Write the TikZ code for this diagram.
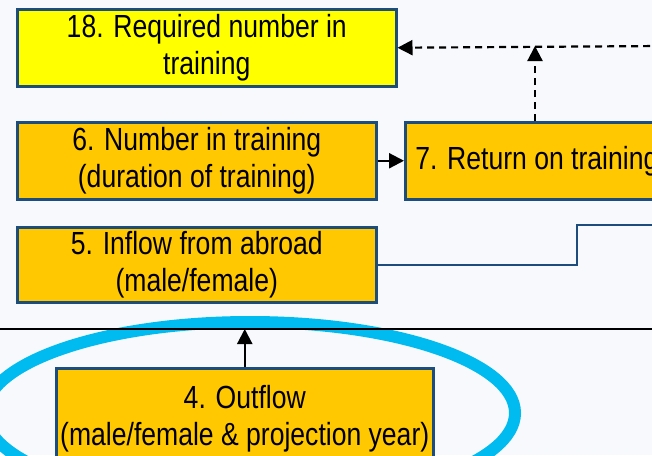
\documentclass[tikz,border=0pt]{standalone}
\usepackage{fontspec}
\setmainfont[FakeStretch=0.83]{Liberation Sans}
\usetikzlibrary{arrows.meta}
\definecolor{bg}{RGB}{248,249,252}
\definecolor{boxyellow}{RGB}{255,255,0}
\definecolor{boxorange}{RGB}{255,200,0}
\definecolor{edgeblue}{RGB}{28,77,124}
\definecolor{ringblue}{RGB}{0,187,240}
\begin{document}
\begin{tikzpicture}[x=1pt,y=-1pt,
  box/.style={draw=edgeblue, line width=2.5pt, fill=boxorange, inner sep=0pt,
    align=center, font=\fontsize{32}{37}\selectfont, anchor=north west},
  arr/.style={-{Triangle[length=15pt,width=15pt]}, line width=2.2pt, black},
  darr/.style={arr, dash pattern=on 7pt off 5pt},
  wire/.style={draw=edgeblue, line width=2.5pt},
  ring/.style={draw=ringblue, line width=12pt}]
\fill[bg] (0,0) rectangle (652,455);
\useasboundingbox (0,0) rectangle (652,455);
\clip (0,0) rectangle (652,455);
% highlight ring
\draw[ring] (250,413) ellipse [x radius=265pt, y radius=91pt];
% separator line
\coordinate (L1) at (-5,329);
\coordinate (L2) at (660,329);
\draw[line width=2pt, black] (L1) -- (L2);
% boxes
\node[box, fill=boxyellow, minimum width=379pt, minimum height=77pt] (b18) at (16,8) {18. Required number in\\training};
\node[box, minimum width=359pt, minimum height=77pt] (b6) at (16,121) {6. Number in training\\(duration of training)};
\node[box, minimum height=77pt, inner xsep=10pt] (b7) at (404,121) {\makebox[380pt][l]{7. Return on training}};
\node[box, minimum width=359pt, minimum height=75pt] (b5) at (16,226) {5. Inflow from abroad\\(male/female)};
\node[box, minimum width=377pt, minimum height=101pt] (b4) at (55,367) {4. Outflow\\(male/female \& projection year)};
% connectors
\coordinate (src) at (662,46);
\coordinate (j) at (535,46);
\draw[darr] (src) -- (b18.east);
\draw[darr] (b7.north -| j) -- (j);
\draw[arr] (b6.east) -- (b7.west);
\coordinate (k1) at (577,225);
\coordinate (k2) at (662,225);
\draw[wire] (b5.east) -| (k1) -- (k2);
\draw[arr] (b4.north) -- (b4.north |- L1);
\end{tikzpicture}
\end{document}
